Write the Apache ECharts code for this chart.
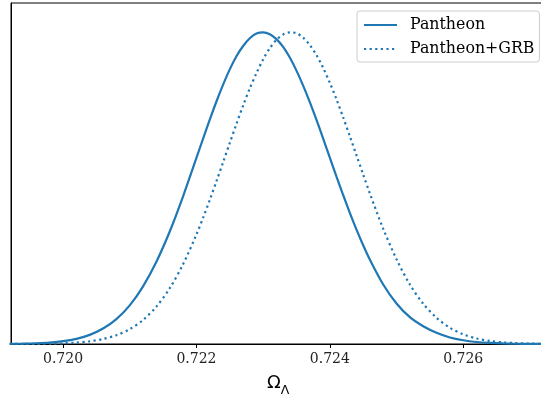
<!DOCTYPE html>
<html>
<head>
<meta charset="utf-8">
<style>
  html, body { margin: 0; padding: 0; background: #fff; overflow: hidden; }
  /* the plot frame runs past the right edge of the view, so the canvas is a bit wider */
  #chart { width: 560px; height: 398px; }
</style>
<script src="https://cdn.jsdelivr.net/npm/echarts@6/dist/echarts.min.js"></script>
</head>
<body>
<div id="chart"></div>
<script>
// Omega_Lambda sample points: step 0.0002 in the tails, 0.0001 around the peaks
const omegaGrid = [
  0.7192, 0.7194, 0.7196, 0.7198, 0.7200, 0.7202, 0.7204, 0.7206, 0.7208, 0.7210,
  0.7212, 0.7214, 0.7216, 0.7218, 0.7220,
  0.7221, 0.7222, 0.7223, 0.7224, 0.7225, 0.7226, 0.7227, 0.7228, 0.7229, 0.7230,
  0.7231, 0.7232, 0.7233, 0.7234, 0.7235, 0.7236, 0.7237, 0.7238, 0.7239, 0.7240,
  0.7241, 0.7242, 0.7243, 0.7244, 0.7245, 0.7246,
  0.7248, 0.7250, 0.7252, 0.7254, 0.7256, 0.7258, 0.7260, 0.7262, 0.7264, 0.7266,
  0.7268, 0.7270, 0.7272, 0.7274
];

// normalised 1D posterior, Pantheon only
const pantheon = [
  0.0005, 0.0011, 0.0024, 0.0047, 0.0090, 0.0166, 0.0293, 0.0495, 0.080, 0.124,
  0.185, 0.264, 0.361, 0.474, 0.597,
  0.659, 0.720, 0.778, 0.832, 0.881, 0.923, 0.956, 0.981, 0.996, 1.000,
  0.994, 0.978, 0.953, 0.919, 0.877, 0.829, 0.776, 0.719, 0.659, 0.598,
  0.537, 0.478, 0.421, 0.367, 0.317, 0.271,
  0.191, 0.130, 0.086, 0.057, 0.036, 0.021, 0.012, 0.0065, 0.0034, 0.0017,
  0.0008, 0.0004, 0.00015, 0.00006
];

// normalised 1D posterior, Pantheon+GRB
const pantheonGrb = [
  0.0001, 0.0002, 0.0005, 0.0011, 0.0023, 0.0046, 0.0087, 0.016, 0.0282, 0.0476,
  0.0772, 0.120, 0.179, 0.256, 0.351,
  0.405, 0.462, 0.522, 0.583, 0.645, 0.706, 0.765, 0.820, 0.869, 0.913,
  0.949, 0.976, 0.993, 1.000, 0.997, 0.983, 0.959, 0.927, 0.886, 0.838,
  0.785, 0.727, 0.667, 0.605, 0.544, 0.483,
  0.370, 0.272, 0.191, 0.129, 0.084, 0.052, 0.031, 0.0178, 0.0098, 0.0051,
  0.0026, 0.0013, 0.0006, 0.0003
];

const tickValues = [0.720, 0.722, 0.724, 0.726];
const seriesNames = ['Pantheon', 'Pantheon+GRB'];

const blue = '#1f77b4';
const serif = '"DejaVu Serif", serif';
const sans = '"DejaVu Sans", sans-serif';

const chart = echarts.init(document.getElementById('chart'), null, { renderer: 'canvas' });

const pairs = (ys) => omegaGrid.map((x, i) => [x, ys[i]]);

chart.setOption({
  animation: false,
  backgroundColor: '#fff',
  title: {
    text: '{a|Ω}{b|Λ}',
    left: 267,
    top: 374,
    padding: 0,
    textStyle: {
      fontWeight: 'normal',
      rich: {
        a: { fontFamily: sans, fontSize: 18, fontWeight: 'normal', color: '#000', verticalAlign: 'top', lineHeight: 23 },
        b: { fontFamily: sans, fontSize: 12.5, fontWeight: 'normal', color: '#000', verticalAlign: 'bottom', lineHeight: 23 }
      }
    }
  },
  grid: {
    left: 11,
    top: 3,
    width: 540,
    height: 341,
    show: true,
    borderColor: '#000',
    borderWidth: 1,
    containLabel: false
  },
  legend: {
    data: seriesNames,
    orient: 'vertical',
    left: 357,
    top: 11,
    padding: [6, 5, 5, 6],
    itemWidth: 33,
    itemHeight: 14,
    itemGap: 8,
    itemStyle: { opacity: 0 },
    backgroundColor: 'rgba(255,255,255,0.8)',
    borderColor: '#cccccc',
    borderWidth: 1,
    borderRadius: 3,
    textStyle: { fontFamily: serif, fontSize: 15.8, color: '#000', padding: [0, 0, 0, 8] }
  },
  xAxis: {
    type: 'value',
    min: 0.71922,
    max: 0.727316,
    axisLine: { show: true, lineStyle: { color: '#000', width: 1 } },
    axisTick: {
      show: true,
      customValues: tickValues,
      length: 4,
      lineStyle: { color: '#000', width: 1 }
    },
    axisLabel: {
      customValues: tickValues,
      margin: 8,
      fontFamily: serif,
      fontSize: 14,
      color: '#222',
      formatter: (v) => v.toFixed(3)
    },
    splitLine: { show: false }
  },
  yAxis: {
    type: 'value',
    min: 0,
    max: 1.094,
    axisLine: { show: true, lineStyle: { color: '#000', width: 1 } },
    axisTick: { show: false },
    axisLabel: { show: false },
    splitLine: { show: false }
  },
  series: [
    {
      name: seriesNames[0],
      type: 'line',
      data: pairs(pantheon),
      symbol: 'none',
      smooth: 0.3,
      color: blue,
      lineStyle: { color: blue, width: 2.2 }
    },
    {
      name: seriesNames[1],
      type: 'line',
      data: pairs(pantheonGrb),
      symbol: 'none',
      smooth: 0.3,
      color: blue,
      lineStyle: { color: blue, width: 2.2, type: [2.2, 3.4] }
    }
  ]
});
</script>
</body>
</html>
